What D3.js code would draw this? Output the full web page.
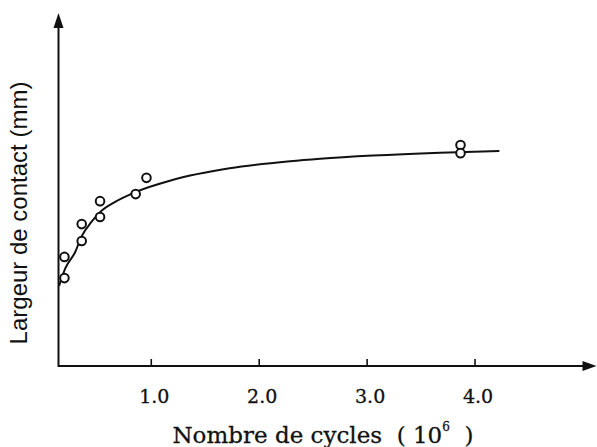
<!DOCTYPE html>
<html>
<head>
<meta charset="utf-8">
<script src="https://cdn.jsdelivr.net/npm/d3@7"></script>
<style>
  body { margin: 0; background: #ffffff; }
  svg { display: block; }
</style>
</head>
<body>
<div class="chart"></div>
<script>
// ************************ DATA ************************

// measured points (cycles in 10^6, contact width in arbitrary mm units)
const cyclesObs = [0.20, 0.20, 0.36, 0.36, 0.53, 0.53, 0.86, 0.96, 3.87, 3.87]
const widthObs = [2.49, 3.09, 3.54, 4.02, 4.22, 4.67, 4.87, 5.33, 6.26, 6.03]

// fitted curve
const cyclesFit = [0.15, 0.21, 0.30, 0.36, 0.45, 0.53, 0.67, 0.86, 1.20, 1.73, 2.29, 2.57, 3.06, 3.68, 4.23]
const widthFit = [2.27, 2.78, 3.23, 3.68, 4.08, 4.36, 4.65, 4.93, 5.27, 5.60, 5.80, 5.87, 5.96, 6.04, 6.09]

// x tick values and labels
const xTicks = [1, 2, 3, 4]
const xTickLabels = ["1.0", "2.0", "3.0", "4.0"]

// ************************ SETUP ************************

const width = 597
const height = 447
const ink = "#111"

// axis corner and ends (pixels)
const x0 = 58.5, x1 = 596.5
const y0 = 366, y1 = 13

const xScale = d3.scaleLinear()
  .domain([0.145, 5.13])
  .range([x0, x1])

const yScale = d3.scaleLinear()
  .domain([0, 10])
  .range([y0, y1])

const svg = d3.select(".chart")
  .append("svg")
  .attr("width", width)
  .attr("height", height)

// ************************ AXES ************************

// x-axis ticks and labels
const xAxis = d3.axisBottom(xScale)
  .tickValues(xTicks)
  .tickSize(-7)
  .tickPadding(24)
  .tickFormat((d, i) => xTickLabels[i])

const gx = svg.append("g")
  .attr("transform", "translate(0," + y0 + ")")
  .call(xAxis)

gx.select(".domain").remove()
gx.selectAll("line").attr("stroke", ink).attr("stroke-width", 1.6)
gx.selectAll("text")
  .attr("fill", ink)
  .attr("dx", 3)
  .attr("stroke", ink)
  .attr("stroke-width", 0.3)
  .style("font-family", "'DejaVu Serif', serif")
  .style("font-size", "19px")

// axis lines
svg.append("path")
  .attr("d", "M" + x0 + "," + (y1 + 12) + "V" + y0 + "H" + (x1 - 12))
  .attr("fill", "none")
  .attr("stroke", ink)
  .attr("stroke-width", 2)

// arrow heads
svg.append("path")
  .attr("d", "M" + x0 + "," + y1 + "l-5,15h10z")
  .attr("fill", ink)

svg.append("path")
  .attr("d", "M" + x1 + "," + y0 + "l-14,-5v10z")
  .attr("fill", ink)

// ************************ CURVE & POINTS ************************

const fitData = cyclesFit.map((c, i) => [c, widthFit[i]])

const line = d3.line()
  .x((d) => xScale(d[0]))
  .y((d) => yScale(d[1]))
  .curve(d3.curveMonotoneX)

svg.append("path")
  .datum(fitData)
  .attr("d", line)
  .attr("fill", "none")
  .attr("stroke", ink)
  .attr("stroke-width", 2)

const obsData = cyclesObs.map((c, i) => [c, widthObs[i]])

svg.selectAll(".pt")
  .data(obsData)
  .enter()
  .append("circle")
  .attr("class", "pt")
  .attr("cx", (d) => xScale(d[0]))
  .attr("cy", (d) => yScale(d[1]))
  .attr("r", 4.3)
  .attr("fill", "#fff")
  .attr("stroke", ink)
  .attr("stroke-width", 2)

// ************************ LABELS ************************

// x-axis title with superscript
const xTitle = svg.append("text")
  .attr("x", 323)
  .attr("y", 443)
  .attr("text-anchor", "middle")
  .attr("fill", ink)
  .attr("stroke", ink)
  .attr("stroke-width", 0.3)
  .style("font-family", "'DejaVu Serif', serif")
  .style("font-size", "23px")

xTitle.append("tspan").text("Nombre de cycles \u00a0( 10")
xTitle.append("tspan")
  .attr("dy", -12)
  .style("font-size", "12px")
  .text("6")
xTitle.append("tspan")
  .attr("dy", 12)
  .text(" \u00a0)")

// y-axis title
svg.append("text")
  .attr("transform", "translate(27,213) rotate(-90)")
  .attr("text-anchor", "middle")
  .attr("fill", ink)
  .style("font-family", "'Liberation Sans', Arial, sans-serif")
  .style("font-size", "24px")
  .text("Largeur de contact (mm)")
</script>
</body>
</html>
